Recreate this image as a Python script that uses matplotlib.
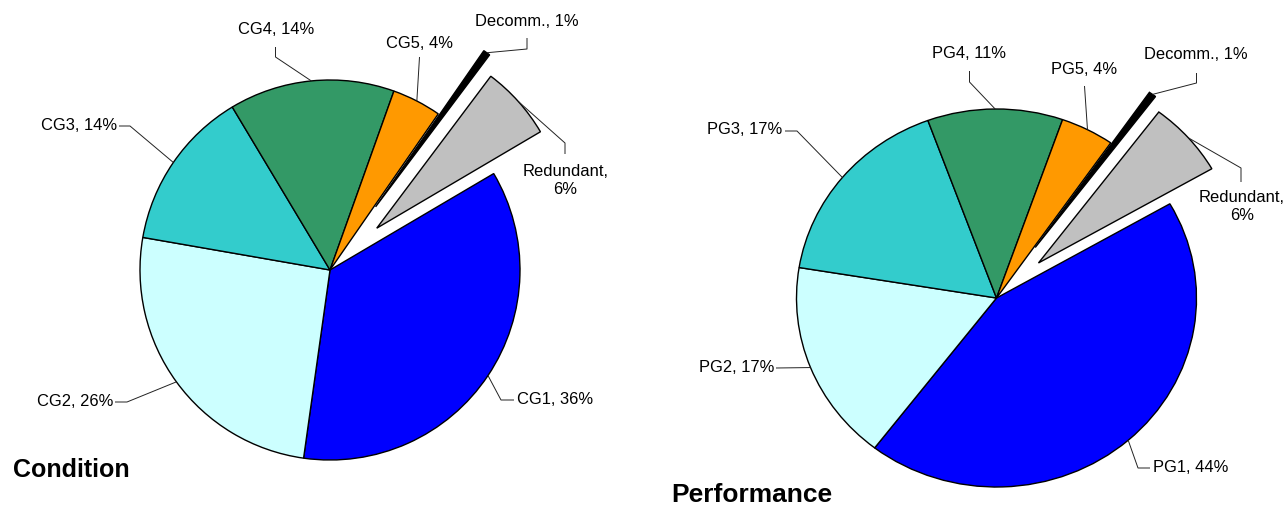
import numpy as np
import matplotlib
matplotlib.use("Agg")
import matplotlib.pyplot as plt

plt.rcParams["font.family"] = ["Liberation Sans", "DejaVu Sans"]

W, H = 1286, 505

cond_names = ["CG1", "CG2", "CG3", "CG4", "CG5", "Decomm.", "Redundant"]
cond_shares = [35.8, 25.6, 13.7, 14.1, 4.2, 0.6, 6.3]
cond_pct = [36, 26, 14, 14, 4, 1, 6]

perf_names = ["PG1", "PG2", "PG3", "PG4", "PG5", "Decomm.", "Redundant"]
perf_shares = [43.6, 17.1, 16.8, 10.9, 4.3, 0.6, 6.4]
perf_pct = [44, 17, 17, 11, 4, 1, 6]

colors = ["#0000FF", "#CCFFFF", "#33CCCC", "#339966", "#FF9900", "#000000", "#C0C0C0"]

# label layout in pixels: (text x, text y, ha, leader start, leader elbow)
cond_layout = [
    (517, 400, "left", (514, 400), (501, 400)),
    (113, 402, "right", (115, 402), (127, 402)),
    (117, 125, "right", (119, 126), (130, 126)),
    (276, 29, "center", (275.5, 47), (275.5, 57)),
    (419, 43, "center", (419.5, 57), (419.5, 57)),
    (527, 22, "center", (527, 38), (527, 49)),
    (565.5, 180, "center", (565, 154), (565, 143)),
]
perf_layout = [
    (1153, 468, "left", (1150, 468), (1138, 468)),
    (774, 368, "right", (776, 368), (776, 368)),
    (782, 130, "right", (785, 131), (797, 131)),
    (969.5, 54, "center", (969.5, 71), (969.5, 82)),
    (1084, 70, "center", (1084.5, 86), (1084.5, 86)),
    (1196, 55, "center", (1196.5, 73), (1196.5, 83)),
    (1242, 207, "center", (1241, 182), (1241, 168)),
]


def draw_pie(fig, center, radii, shares, names, pct, explode, startangle, layout):
    cx, cy = center
    rx, ry = radii
    ax = fig.add_axes([0, 0, 1, 1])
    ax.patch.set_alpha(0)
    wedges, _ = ax.pie(shares, colors=colors, explode=explode, startangle=startangle,
                       counterclock=False,
                       wedgeprops=dict(edgecolor="black", linewidth=1.0))
    ax.set_aspect("auto")
    ax.set_xlim(-cx / rx, (W - cx) / rx)
    ax.set_ylim(-(H - cy) / ry, cy / ry)
    ax.axis("off")

    def px(x, y):
        return (x - cx) / rx, (cy - y) / ry

    for w, name, p, (tx, ty, ha, start, elbow) in zip(wedges, names, pct, layout):
        mid = np.deg2rad((w.theta1 + w.theta2) / 2)
        ex = w.center[0] + w.r * np.cos(mid)
        ey = w.center[1] + w.r * np.sin(mid)
        sx, sy = px(*start)
        bx, by = px(*elbow)
        ax.plot([sx, bx, ex], [sy, by, ey], color="#222222", lw=0.7, solid_capstyle="butt")
        label = f"{name},\n{p}%" if name == "Redundant" else f"{name}, {p}%"
        ax.text(*px(tx, ty), label, ha=ha, va="center", fontsize=11.9,
                multialignment="center", linespacing=1.25)
    return ax, px


def main() -> None:
    fig = plt.figure(figsize=(W / 100, H / 100), dpi=100)

    _, px_l = draw_pie(fig, (330, 270), (190, 190), cond_shares, cond_names, cond_pct,
                       [0, 0, 0, 0, 0, 0.41, 0.33], 30.5, cond_layout)
    ax_r, px_r = draw_pie(fig, (996.5, 298), (200, 189), perf_shares, perf_names, perf_pct,
                          [0, 0, 0, 0, 0, 0.33, 0.28], 29.9, perf_layout)

    ax_r.text(*px_r(13, 470), "Condition", ha="left", va="center",
              fontsize=18, fontweight="bold")
    ax_r.text(*px_r(671, 495), "Performance", ha="left", va="center",
              fontsize=19, fontweight="bold")

    fig.savefig("out.png", dpi=100)
    plt.close(fig)


if __name__ == "__main__":
    main()
